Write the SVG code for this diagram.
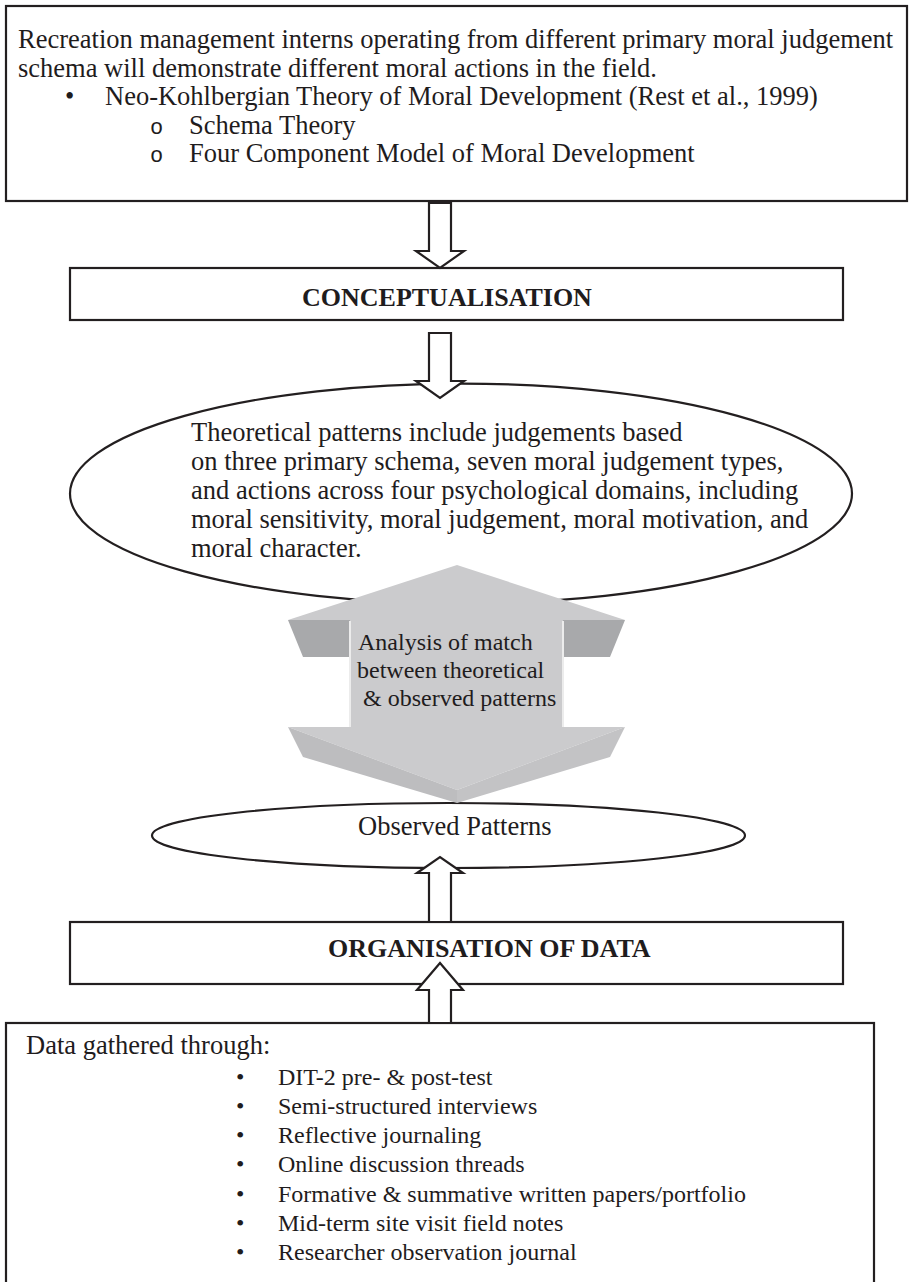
<svg xmlns="http://www.w3.org/2000/svg" width="913" height="1282" viewBox="0 0 913 1282">
<style>
.t{font-family:"Liberation Serif","Times New Roman",serif;font-size:26.5px;fill:#1f1c1d}
.b{font-weight:bold;font-size:26px}
.s{font-size:24px}
.m{font-family:"Liberation Mono","Courier New",monospace;font-size:22px;fill:#1f1c1d}
.box{fill:#fff;stroke:#231f20;stroke-width:2.2}
.arr{fill:#fff;stroke:#231f20;stroke-width:2.2;stroke-linejoin:miter}
.face{fill:#cbcbcd}
.dark{fill:#a8a9ab}
.bev{fill:#bdbdbf}
.hl{stroke:#ececec;stroke-width:2;fill:none}
</style>
<rect width="913" height="1282" fill="#fff"/>
<g id="hypothesis">
<rect class="box" x="6" y="6" width="901" height="195"/>
<text class="t" x="18" y="48">Recreation management interns operating from different primary moral judgement</text>
<text class="t" x="18" y="76.5">schema will demonstrate different moral actions in the field.</text>
<text class="t" x="65" y="105">•</text>
<text class="t" x="105" y="105">Neo-Kohlbergian Theory of Moral Development (Rest et al., 1999)</text>
<text class="m" x="150" y="133.5">o</text>
<text class="t" x="189" y="133.5">Schema Theory</text>
<text class="m" x="150" y="162">o</text>
<text class="t" x="189" y="162">Four Component Model of Moral Development</text>
</g>
<g id="conceptualisation">
<rect class="box" x="70" y="268" width="773" height="52"/>
<text class="t b" x="302" y="306">CONCEPTUALISATION</text>
</g>
<g id="theoretical">
<ellipse class="box" cx="461" cy="493.6" rx="391" ry="110"/>
<text class="t" x="191" y="441">Theoretical patterns include judgements based</text>
<text class="t" x="191" y="470">on three primary schema, seven moral judgement types,</text>
<text class="t" x="191" y="499">and actions across four psychological domains, including</text>
<text class="t" x="191" y="528">moral sensitivity, moral judgement, moral motivation, and</text>
<text class="t" x="191" y="557">moral character.</text>
</g>
<g id="observed">
<ellipse class="box" cx="448.5" cy="835.5" rx="296.5" ry="32.5"/>
<text class="t" x="358" y="835">Observed Patterns</text>
</g>
<g id="analysis">
<polygon class="face" points="457,565 625,620 288,620"/>
<rect class="face" x="350" y="619" width="213" height="109"/>
<polygon class="dark" points="288,620 350,620 350,657 303,657"/>
<polygon class="dark" points="563,620 625,620 610,657 563,657"/>
<polygon class="face" points="288,727 625,727 457,790"/>
<polygon class="bev" points="288,727 457,790 457,803 303,757"/>
<polygon class="bev" points="625,727 610,757 457,803 457,790" style="fill:#c3c3c5"/>
<path class="hl" d="M350,621 V727 M563,621 V727"/>
<text class="t s" x="358" y="650">Analysis of match</text>
<text class="t s" x="357" y="678">between theoretical</text>
<text class="t s" x="363" y="706">&amp; observed patterns</text>
</g>
<g id="organisation">
<rect class="box" x="70" y="922" width="773" height="62"/>
<text class="t b" x="328" y="957">ORGANISATION OF DATA</text>
</g>
<g id="data">
<rect class="box" x="6" y="1023" width="868" height="290"/>
<text class="t" x="26" y="1054">Data gathered through:</text>
<g class="t s">
<text x="236" y="1085">•</text><text x="278" y="1085">DIT-2 pre- &amp; post-test</text>
<text x="236" y="1114">•</text><text x="278" y="1114">Semi-structured interviews</text>
<text x="236" y="1143">•</text><text x="278" y="1143">Reflective journaling</text>
<text x="236" y="1172">•</text><text x="278" y="1172">Online discussion threads</text>
<text x="236" y="1202">•</text><text x="278" y="1202">Formative &amp; summative written papers/portfolio</text>
<text x="236" y="1231">•</text><text x="278" y="1231">Mid-term site visit field notes</text>
<text x="236" y="1260">•</text><text x="278" y="1260">Researcher observation journal</text>
</g>
</g>
<g id="connectors">
<path class="arr" d="M429,203 H451 V251 H464 L440,268 L416,251 H429 Z"/>
<path class="arr" d="M429,333 H451 V381 H464 L440,398 L416,381 H429 Z"/>
<path class="arr" d="M429,922 V873 H417 L440,857 L463,873 H451 V922 Z"/>
<path class="arr" d="M429,1023 V990 H417 L440,963 L463,990 H451 V1023 Z"/>
</g>
</svg>
